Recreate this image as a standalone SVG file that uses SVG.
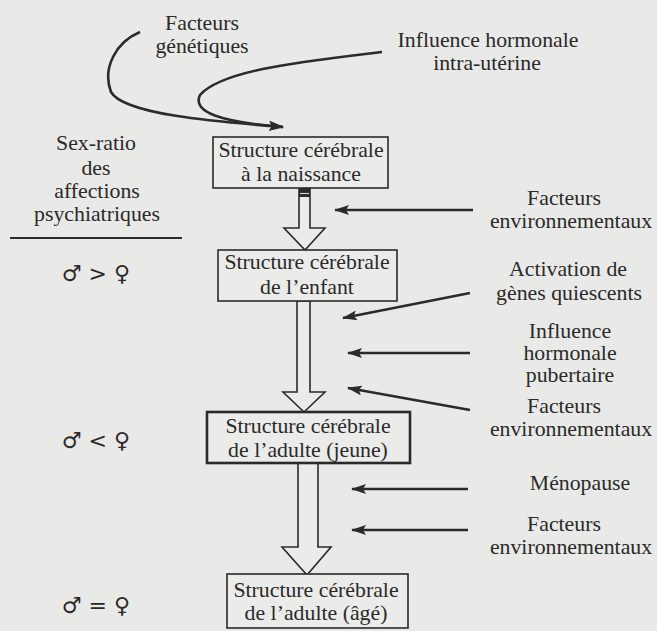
<svg xmlns="http://www.w3.org/2000/svg" width="657" height="631" viewBox="0 0 657 631">
<defs>
<marker id="ah" viewBox="0 0 15 10" refX="14" refY="5" markerWidth="15" markerHeight="10" markerUnits="userSpaceOnUse" orient="auto">
<path d="M0,0 L15,5 L0,10 L3,5 Z" fill="#2b2b2b"/>
</marker>
<style>
.t{font-family:"Liberation Serif","Times New Roman",serif;font-size:21.8px;fill:#2a2a2a;text-anchor:middle}
.s{font-family:"DejaVu Sans",sans-serif;font-size:22px;fill:#2a2a2a;text-anchor:middle}
.box{fill:#ebebe9;stroke:#2a2a2a;stroke-width:1.6}
.bold{stroke-width:2.6}
.hollow{fill:#ebebe9;stroke:#2a2a2a;stroke-width:1.6;stroke-linejoin:miter}
.conn{fill:none;stroke:#2b2b2b;stroke-width:2.6;marker-end:url(#ah)}
</style>
</defs>
<rect width="657" height="631" fill="#e9e9e7"/>

<g id="connectors">
<path class="conn" d="M140,32 C116,42 102,68 111,92 C124,115 220,122 283,127"/>
<path class="conn" d="M382,52 C300,62 222,70 200,95 C192,112 220,122 283,127"/>
<line class="conn" x1="473" y1="210" x2="335" y2="210"/>
<line class="conn" x1="470" y1="293" x2="343" y2="318"/>
<line class="conn" x1="470" y1="353" x2="348" y2="353"/>
<line class="conn" x1="470" y1="410" x2="348" y2="388"/>
<line class="conn" x1="468" y1="489" x2="352" y2="489"/>
<line class="conn" x1="468" y1="530" x2="352" y2="530"/>
<polygon class="hollow" points="299,188 299,228 284,228 305,250 325,228 310,228 310,188"/>
<rect x="299" y="188" width="11" height="9" fill="#2a2a2a"/>
<line x1="300" y1="193.5" x2="309" y2="193.5" stroke="#cfcfcd" stroke-width="1.2"/>
<polygon class="hollow" points="297,301 297,392 283,392 304,412 325,392 310,392 310,301"/>
<polygon class="hollow" points="298,463 298,547 282,547 307,575 331,547 318,547 318,463"/>
</g>

<g id="facteurs-genetiques">
<text class="t" x="202" y="30">Facteurs</text>
<text class="t" x="202" y="53">génétiques</text>
</g>
<g id="influence-hormonale-intra-uterine">
<text class="t" x="488" y="47">Influence hormonale</text>
<text class="t" x="487" y="70">intra-utérine</text>
</g>

<g id="box-naissance">
<rect class="box" x="213" y="137" width="175" height="51"/>
<text class="t" x="301" y="157">Structure cérébrale</text>
<text class="t" x="301" y="181">à la naissance</text>
</g>
<g id="box-enfant">
<rect class="box" x="218" y="250" width="179" height="51"/>
<text class="t" x="307" y="269">Structure cérébrale</text>
<text class="t" x="307" y="294">de l’enfant</text>
</g>
<g id="box-adulte-jeune">
<rect class="box bold" x="207" y="412" width="203" height="51"/>
<text class="t" x="308" y="433">Structure cérébrale</text>
<text class="t" x="308" y="457">de l’adulte (jeune)</text>
</g>
<g id="box-adulte-age">
<rect class="box" x="227" y="574" width="181" height="54"/>
<text class="t" x="316" y="597">Structure cérébrale</text>
<text class="t" x="316" y="620">de l’adulte (âgé)</text>
</g>

<g id="sex-ratio">
<text class="t" x="96" y="150">Sex-ratio</text>
<text class="t" x="96" y="175">des</text>
<text class="t" x="97" y="198">affections</text>
<text class="t" x="97" y="221">psychiatriques</text>
<line x1="10" y1="238" x2="182" y2="238" stroke="#2a2a2a" stroke-width="2"/>
</g>
<g id="ratio-enfant"><text class="s" x="96" y="281">♂ &gt; ♀</text></g>
<g id="ratio-adulte-jeune"><text class="s" x="96" y="448">♂ &lt; ♀</text></g>
<g id="ratio-adulte-age"><text class="s" x="96" y="613">♂ = ♀</text></g>

<g id="facteurs-env-1">
<text class="t" x="564" y="205">Facteurs</text>
<text class="t" x="571" y="228">environnementaux</text>
</g>
<g id="activation-genes">
<text class="t" x="568" y="276">Activation de</text>
<text class="t" x="569" y="300">gènes quiescents</text>
</g>
<g id="influence-pubertaire">
<text class="t" x="570" y="338">Influence</text>
<text class="t" x="570" y="360">hormonale</text>
<text class="t" x="570" y="382">pubertaire</text>
</g>
<g id="facteurs-env-2">
<text class="t" x="564" y="413">Facteurs</text>
<text class="t" x="571" y="436">environnementaux</text>
</g>
<g id="menopause">
<text class="t" x="580" y="490">Ménopause</text>
</g>
<g id="facteurs-env-3">
<text class="t" x="564" y="531">Facteurs</text>
<text class="t" x="571" y="554">environnementaux</text>
</g>
</svg>
